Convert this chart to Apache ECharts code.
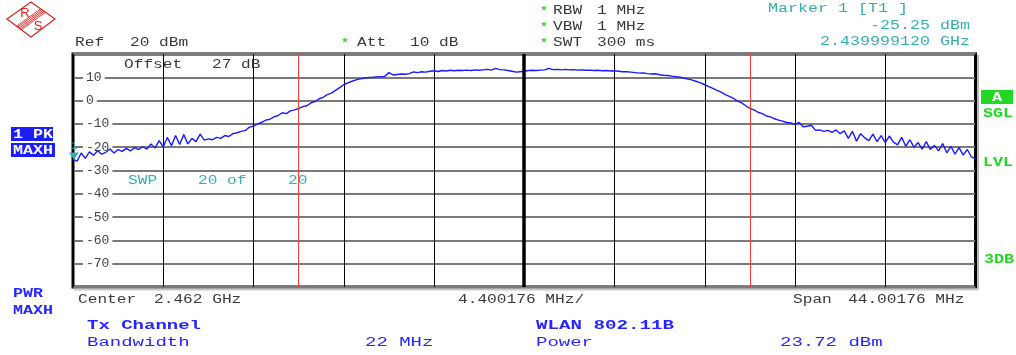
<!DOCTYPE html>
<html>
<head>
<meta charset="utf-8">
<title>WLAN 802.11B Tx Channel</title>
<script src="https://cdn.jsdelivr.net/npm/echarts@6/dist/echarts.min.js"></script>
<style>
  html, body { margin: 0; padding: 0; background: #fff; }
  #chart { width: 1016px; height: 355px; }
</style>
</head>
<body>
<div id="chart"></div>
<script>
// Sweep settings (MHz / dBm)
const CENTER_MHZ = 2462;
const SPAN_MHZ = 44.00176;
const CHANNEL_BW_MHZ = 22;
const REF_LEVEL = 20;
const BOTTOM_LEVEL = -80;
const DB_PER_DIV = 10;
const MARKER_FREQ_MHZ = 2439.99912;
const MARKER_LEVEL = -25.25;

// Max-hold trace, one value per 0.2 MHz step across the span (dBm)
const levels = [
  -25.25, -26.0, -22.5, -24.8, -22.0, -23.5, -21.5, -23.0, -22.2, -20.8,
  -22.5, -21.0, -21.8, -20.5, -21.6, -20.2, -21.0, -19.8, -20.8, -18.6,
  -20.4, -17.2, -19.8, -15.8, -19.4, -15.0, -18.8, -14.6, -18.6, -16.2,
  -17.6, -14.4, -17.0, -16.4, -16.8, -15.8, -16.2, -15.0, -15.4, -14.2,
  -13.8, -13.2, -12.8, -11.4, -11.0, -10.0, -9.3, -8.4, -8.0, -7.0,
  -6.4, -5.2, -5.6, -4.4, -4.0, -3.4, -2.6, -2.2, -1.0, -0.4,
  0.8, 1.4, 2.6, 3.2, 4.4, 5.6, 6.8, 7.6, 8.3, 8.9,
  9.3, 9.6, 9.9, 10.0, 10.2, 10.3, 10.4, 12.0, 11.0, 11.2,
  11.4, 11.3, 11.6, 12.3, 12.0, 12.4, 12.2, 12.6, 12.8, 12.5,
  12.9, 12.7, 13.0, 12.8, 13.0, 12.9, 13.1, 12.9, 13.2, 13.0,
  13.2, 13.4, 13.1, 13.8, 13.3, 13.2, 12.9, 12.6, 12.2, 12.4,
  12.6, 12.9, 13.0, 12.9, 13.1, 13.2, 13.8, 13.3, 13.4, 13.2,
  13.4, 13.2, 13.3, 13.1, 13.2, 13.0, 13.1, 12.9, 13.0, 12.8,
  12.9, 12.7, 12.8, 12.6, 12.4, 12.4, 12.2, 12.0, 11.8, 11.9,
  11.6, 11.4, 11.5, 11.1, 10.9, 10.8, 10.5, 10.3, 10.0, 9.6,
  9.2, 8.8, 8.2, 7.6, 6.8, 6.0, 5.2, 4.4, 3.6, 2.6,
  1.8, 1.0, -0.2, -1.0, -2.2, -3.4, -4.0, -5.0, -5.6, -6.6,
  -7.0, -7.8, -8.4, -8.8, -9.4, -9.6, -10.2, -9.4, -11.2, -11.0,
  -10.6, -12.8, -12.6, -13.2, -12.8, -13.6, -12.6, -14.2, -13.0, -16.2,
  -13.2, -17.4, -14.2, -16.0, -17.2, -14.4, -17.6, -15.0, -18.0, -15.2,
  -17.8, -19.0, -15.8, -19.6, -16.8, -20.0, -18.0, -20.8, -17.6, -21.0,
  -19.2, -21.6, -18.4, -22.4, -19.6, -23.0, -20.2, -23.4, -21.0, -24.2,
  -25.0
];

const START_MHZ = CENTER_MHZ - SPAN_MHZ / 2;
const STEP_MHZ = SPAN_MHZ / (levels.length - 1);
// x is the offset from the start frequency so grid divisions begin at 0
const trace = levels.map((v, i) => [i * STEP_MHZ, v]);
const chanLow = CENTER_MHZ - CHANNEL_BW_MHZ / 2 - START_MHZ;
const chanHigh = CENTER_MHZ + CHANNEL_BW_MHZ / 2 - START_MHZ;
const centerOffset = CENTER_MHZ - START_MHZ;

const MONO = '"Liberation Mono", "DejaVu Sans Mono", monospace';
const DARK = '#3a3a3a';
const TEAL = '#36aeae';
const GREEN = '#22d822';
const BLUE = '#2525ff';

// Stretched monospace text so the glyph pitch matches the instrument font
function txt(str, x, y, o) {
  o = o || {};
  const fs = o.fs || 12;
  const adv = o.adv || 9.7;
  const align = o.align || 'left';
  return {
    type: 'text',
    x: x, y: y,
    scaleX: adv / (0.6 * fs),
    z: 10,
    silent: true,
    style: {
      text: str,
      font: (o.bold ? 'bold ' : '') + fs + 'px ' + MONO,
      fill: o.color || DARK,
      align: align, verticalAlign: 'middle',
      textAlign: align, textVerticalAlign: 'middle'
    }
  };
}

function box(x, y, w, h, color) {
  return { type: 'rect', z: 9, silent: true, shape: { x: x, y: y, width: w, height: h }, style: { fill: color } };
}

// R&S diamond logo
const logo = [];
logo.push({
  type: 'polygon', z: 10, silent: true,
  shape: { points: [[7, 19], [31, 2], [55, 19], [31, 37]] },
  style: { fill: 'none', stroke: '#dd2222', lineWidth: 1.2 }
});
[-3, -1.5, 0, 1.5, 3].forEach(s => {
  logo.push({
    type: 'line', z: 10, silent: true,
    shape: { x1: 43 + 0.816 * s, y1: 10.5 + 0.578 * s, x2: 19 + 0.816 * s, y2: 28 + 0.578 * s },
    style: { stroke: '#dd2222', lineWidth: 0.9 }
  });
});
logo.push({ type: 'text', x: 25, y: 13.5, z: 10, silent: true,
  style: { text: 'R', font: '13px "Liberation Sans", sans-serif', fill: '#dd2222', align: 'center', verticalAlign: 'middle', textAlign: 'center', textVerticalAlign: 'middle' } });
logo.push({ type: 'text', x: 38, y: 26, z: 10, silent: true,
  style: { text: 'S', font: '13px "Liberation Sans", sans-serif', fill: '#dd2222', align: 'center', verticalAlign: 'middle', textAlign: 'center', textVerticalAlign: 'middle' } });

// soft shadow along the right and bottom edges of the display frame
const frameShadow = [
  { type: 'rect', z: 1, silent: true, shape: { x: 977, y: 55, width: 2, height: 234 }, style: { fill: '#b8b8b8' } },
  { type: 'rect', z: 1, silent: true, shape: { x: 74, y: 288.5, width: 905, height: 2 }, style: { fill: '#c8c8c8' } }
];

const star = (x, y) => txt('*', x, y, { color: GREEN, bold: true, adv: 8, fs: 11 });

const annotations = [
  // header
  txt('Ref', 75, 42.5), txt('20 dBm', 130, 42.5),
  star(341, 43), txt('Att', 357, 42.5), txt('10 dB', 410, 42.5),
  star(540, 11), txt('RBW', 553, 10.5), txt('1 MHz', 597, 10.5),
  star(540, 27), txt('VBW', 553, 26.5), txt('1 MHz', 597, 26.5),
  star(540, 43), txt('SWT', 553, 42.5), txt('300 ms', 597, 42.5),
  txt('Marker 1 [T1 ]', 768, 9, { color: TEAL, adv: 10 }),
  txt('-25.25 dBm', 970, 25.5, { color: TEAL, adv: 10, align: 'right' }),
  txt('2.439999120 GHz', 970, 41.5, { color: TEAL, adv: 10, align: 'right' }),
  // inside the plot
  txt('Offset', 124, 64.5), txt('27 dB', 212, 64.5),
  txt('SWP', 128, 181, { color: TEAL }), txt('20 of', 198, 181, { color: TEAL }), txt('20', 288, 181, { color: TEAL }),
  // left side indicators
  box(11, 127, 42, 14, '#1c1cff'), txt('1 PK', 13, 134.5, { color: '#fff', bold: true, adv: 10 }),
  box(11, 143, 44, 14, '#1c1cff'), txt('MAXH', 13, 150.5, { color: '#fff', bold: true, adv: 10 }),
  txt('PWR', 13, 293.5, { color: BLUE, bold: true, adv: 10 }),
  txt('MAXH', 13, 311, { color: BLUE, bold: true, adv: 10 }),
  // right side indicators
  box(981, 90, 32, 14, GREEN), txt('A', 997, 97.5, { color: '#fff', bold: true, adv: 10, align: 'center' }),
  txt('SGL', 983, 113.5, { color: GREEN, bold: true, adv: 10 }),
  txt('LVL', 983, 163, { color: GREEN, bold: true, adv: 10 }),
  txt('3DB', 984, 260, { color: GREEN, bold: true, adv: 10 }),
  // footer
  txt('Center', 78, 299.5), txt('2.462 GHz', 154, 299.5),
  txt('4.400176 MHz/', 458, 299.5),
  txt('Span', 793, 299.5), txt('44.00176 MHz', 848, 299.5),
  txt('Tx Channel', 87, 326, { color: BLUE, bold: true, adv: 11.4, fs: 12.5 }),
  txt('Bandwidth', 87, 342.5, { color: BLUE, adv: 11.4, fs: 12.5 }),
  txt('22 MHz', 365, 342.5, { color: BLUE, adv: 11.4, fs: 12.5 }),
  txt('WLAN 802.11B', 536, 326, { color: BLUE, bold: true, adv: 11.5, fs: 12.5 }),
  txt('Power', 536, 342.5, { color: BLUE, adv: 11.4, fs: 12.5 }),
  txt('23.72 dBm', 780, 342.5, { color: BLUE, adv: 11.4, fs: 12.5 })
];

const chart = echarts.init(document.getElementById('chart'), null, { renderer: 'canvas' });
chart.setOption({
  animation: false,
  backgroundColor: '#fff',
  grid: {
    left: 73, right: 40.5, top: 54, bottom: 68,
    show: true, borderColor: '#000', borderWidth: 3, backgroundColor: '#fff'
  },
  xAxis: {
    type: 'value',
    min: 0, max: SPAN_MHZ, interval: SPAN_MHZ / 10,
    axisLine: { show: false }, axisTick: { show: false }, axisLabel: { show: false },
    splitLine: { show: true, lineStyle: { color: '#000', width: 1 } }
  },
  yAxis: {
    type: 'value',
    min: BOTTOM_LEVEL, max: REF_LEVEL, interval: DB_PER_DIV,
    axisLine: { show: false }, axisTick: { show: false },
    splitLine: { show: true, lineStyle: { color: '#7a7a7a', width: 2 } },
    axisLabel: {
      inside: true, margin: 10,
      showMinLabel: false, showMaxLabel: false,
      fontFamily: MONO, fontSize: 13, color: '#444',
      backgroundColor: '#fff', padding: [1, 3, 1, 3]
    }
  },
  series: [{
    type: 'line',
    data: trace,
    showSymbol: false,
    lineStyle: { color: '#1a1aff', width: 1.4 },
    z: 3,
    markLine: {
      silent: true, symbol: 'none', label: { show: false },
      data: [
        { xAxis: chanLow, lineStyle: { color: '#ff3a3a', width: 1, type: 'solid' } },
        { xAxis: chanHigh, lineStyle: { color: '#ff3a3a', width: 1, type: 'solid' } },
        { xAxis: centerOffset, lineStyle: { color: '#000', width: 3.5, type: 'solid' } }
      ]
    },
    markPoint: {
      silent: true,
      symbol: 'triangle', symbolRotate: 180, symbolSize: [10, 7], symbolOffset: [1, '-50%'],
      itemStyle: { color: TEAL },
      label: { show: true, formatter: '1', position: 'top', distance: 1, color: TEAL, fontFamily: MONO, fontSize: 11 },
      data: [{ coord: [MARKER_FREQ_MHZ - START_MHZ, MARKER_LEVEL] }]
    }
  }],
  graphic: { elements: logo.concat(frameShadow, annotations) }
});
</script>
</body>
</html>
